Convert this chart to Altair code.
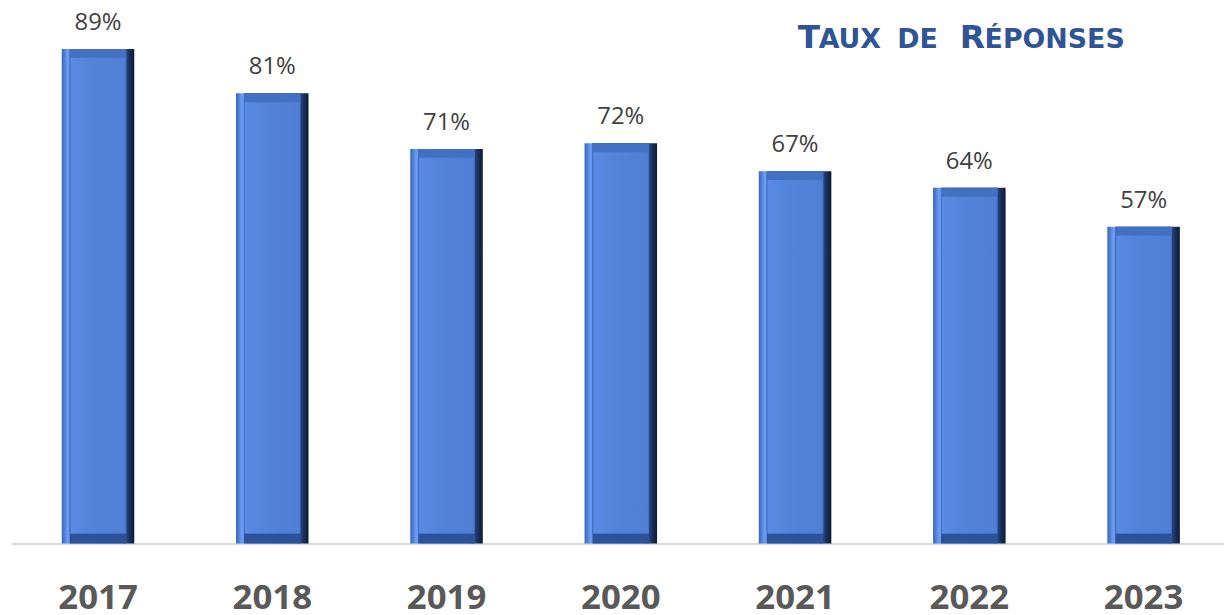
import altair as alt
import pandas as pd

years = ["2017", "2018", "2019", "2020", "2021", "2022", "2023"]
rates = [89, 81, 71, 72, 67, 64, 57]
labels = ["89%", "81%", "71%", "72%", "67%", "64%", "57%"]

df = pd.DataFrame({"year": years, "rate": rates, "label": labels, "zero": [0] * len(years)})

FONT = "Open Sans"
TITLE_FONT = "DejaVu Sans"
TITLE_COLOR = "#2f5597"

x = alt.X("year:N",
          scale=alt.Scale(paddingInner=0.583, paddingOuter=0.269, align=0.53, round=False),
          axis=alt.Axis(title=None, labelAngle=0, labelFont=FONT, labelFontSize=35,
                        labelFontWeight="bold", labelColor="#595959", labelPadding=65,
                        labelBaseline="alphabetic",
                        ticks=False, domainColor="#d9d9d9", domainWidth=2, grid=False))
y = alt.Y("rate:Q", scale=alt.Scale(domain=[0, 96], nice=False), axis=None)

base = alt.Chart(df)


def hgrad(stops):
    return alt.LinearGradient(
        gradient="linear", x1=0, x2=1, y1=0, y2=0,
        stops=[alt.GradientStop(offset=o, color=c) for o, c in stops])


outer_grad = hgrad([
    (0, "#3a66b8"), (0.04, "#4f80d6"), (0.08, "#6b9df2"), (0.14, "#5d8fe6"),
    (0.22, "#5485da"), (0.8, "#4f7ed3"), (0.86, "#2f5596"), (0.93, "#1a3260"),
    (1, "#0d1a33"),
])
inner_grad = hgrad([(0, "#5a8be4"), (0.3, "#5485da"), (1, "#4f7ed3")])

outer = base.mark_bar(size=73, color=outer_grad).encode(x=x, y=y, y2="zero:Q")

bottom_band = base.mark_bar(size=57, color="#2c5399").encode(x=x, y=y, y2="zero:Q")

top_band = base.mark_bar(size=57, y2Offset=-10, color="#4270c2").encode(
    x=x, y=y, y2="zero:Q")

inner = base.mark_bar(size=55, yOffset=9, y2Offset=-10, color=inner_grad).encode(
    x=x, y=y, y2="zero:Q")

text = base.mark_text(
    dy=-19, baseline="alphabetic", font=FONT, fontSize=24, color="#404040"
).encode(x=x, y=y, text="label:N")


def tpiece(s, px, size):
    return alt.Chart(pd.DataFrame({"t": [s]})).mark_text(
        align="left", baseline="alphabetic", font=TITLE_FONT, fontWeight="bold",
        fontSize=size, color=TITLE_COLOR
    ).encode(x=alt.value(px - 12), y=alt.value(38), text="t:N")


title_layers = [
    tpiece("T", 803, 33),
    tpiece("AUX", 824, 27),
    tpiece("DE", 903, 27),
    tpiece("R", 966, 33),
    tpiece("ÉPONSES", 991, 27),
]

chart = alt.layer(outer, bottom_band, top_band, inner, text, *title_layers).properties(
    width=1220, height=537,
    autosize=alt.AutoSizeParams(type="none"),
    padding={"left": 4, "top": 0, "right": 0, "bottom": 70},
).configure_view(stroke=None)

chart.save("out.html", embed_options={"renderer": "svg", "actions": False})
